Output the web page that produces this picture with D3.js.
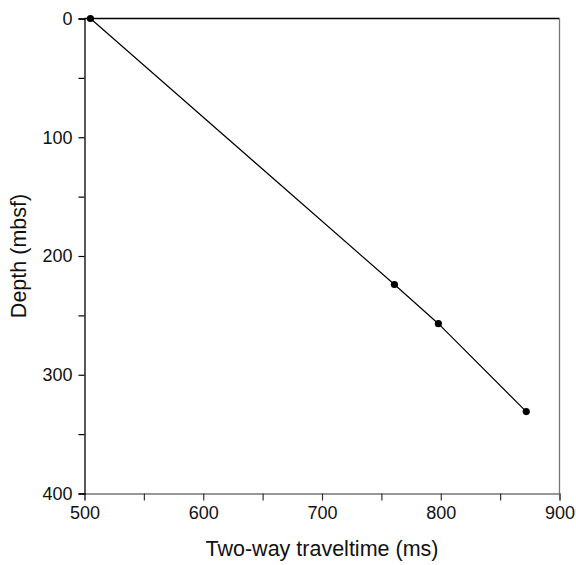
<!DOCTYPE html>
<html>
<head>
<meta charset="utf-8">
<script src="https://d3js.org/d3.v7.min.js"></script>
<style>
  body { margin: 0; background: #fff; }
  text { font-family: "Liberation Sans", Arial, Helvetica, sans-serif; fill: #111; }
</style>
</head>
<body>
<svg id="chart" width="576" height="565"></svg>
<script>
// data
var twt = [505, 761, 798, 872];       // two-way traveltime (ms)
var depth = [0, 224, 257, 331];       // depth (mbsf)
var xTicks = [500, 550, 600, 650, 700, 750, 800, 850, 900];
var yTicks = [0, 50, 100, 150, 200, 250, 300, 350, 400];

var svg = d3.select('#chart');
var plotL = 84.5, plotR = 559.5, plotT = 18.5, plotB = 493.5;

var x = d3.scaleLinear().domain([500, 900]).range([plotL, plotR]);
var y = d3.scaleLinear().domain([0, 400]).range([plotT, plotB]);

var label = function (d) { return d % 100 === 0 ? d : ''; };

// frame: top and right
svg.append('line')
  .attr('x1', plotL).attr('x2', plotR).attr('y1', plotT).attr('y2', plotT)
  .attr('stroke', '#000').attr('stroke-width', 1.3);
svg.append('line')
  .attr('x1', plotR).attr('x2', plotR).attr('y1', plotT).attr('y2', plotB)
  .attr('stroke', '#777').attr('stroke-width', 1.3);

// x axis
var gx = svg.append('g')
  .attr('transform', 'translate(0,' + plotB + ')')
  .call(d3.axisBottom(x).tickValues(xTicks).tickFormat(label).tickSizeOuter(0).tickSize(7).tickPadding(6));
gx.select('.domain').attr('stroke', '#777').attr('stroke-width', 1.3);
gx.selectAll('.tick line').attr('stroke', '#333').attr('stroke-width', 1.2);
gx.selectAll('.tick text').attr('font-size', 18).attr('font-family', '"Liberation Sans", Arial, sans-serif').attr('fill', '#111');

// y axis
var gy = svg.append('g')
  .attr('transform', 'translate(' + plotL + ',0)')
  .call(d3.axisLeft(y).tickValues(yTicks).tickFormat(label).tickSizeOuter(0).tickSize(6).tickPadding(6));
gy.select('.domain').attr('stroke', '#000').attr('stroke-width', 1.3);
gy.selectAll('.tick line').attr('stroke', '#000').attr('stroke-width', 1.2);
gy.selectAll('.tick text').attr('font-size', 18).attr('font-family', '"Liberation Sans", Arial, sans-serif').attr('fill', '#111');

// axis titles
svg.append('text')
  .attr('x', (plotL + plotR) / 2).attr('y', 556)
  .attr('text-anchor', 'middle').attr('font-size', 21.5)
  .text('Two-way traveltime (ms)');
svg.append('text')
  .attr('transform', 'translate(26,' + ((plotT + plotB) / 2) + ') rotate(-90)')
  .attr('text-anchor', 'middle').attr('font-size', 21.5)
  .text('Depth (mbsf)');

// line and points
var pts = twt.map(function (d, i) { return [d, depth[i]]; });
var line = d3.line()
  .x(function (d) { return x(d[0]); })
  .y(function (d) { return y(d[1]); });

svg.append('path')
  .datum(pts)
  .attr('d', line)
  .attr('fill', 'none')
  .attr('stroke', '#000')
  .attr('stroke-width', 1.2);

svg.selectAll('.pt')
  .data(pts).enter()
  .append('circle')
  .attr('class', 'pt')
  .attr('cx', function (d) { return x(d[0]); })
  .attr('cy', function (d) { return y(d[1]); })
  .attr('r', 3.6)
  .attr('fill', '#000');
</script>
</body>
</html>
